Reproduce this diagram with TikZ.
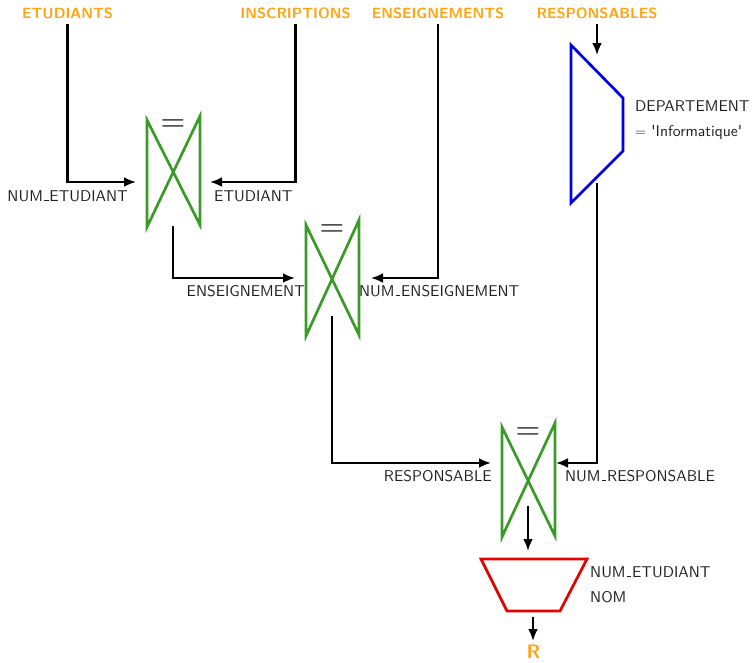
\documentclass[tikz,border=0pt]{standalone}
\usepackage{fontspec}
\newfontfamily\lmsten{lmsans10-regular.otf}[BoldFont=lmsans10-bold.otf]
\usetikzlibrary{arrows.meta}
\definecolor{jgreen}{RGB}{58,155,40}
\definecolor{torange}{RGB}{255,165,20}
\definecolor{sblue}{RGB}{0,0,230}
\definecolor{pred}{RGB}{230,0,0}
\newcommand\us{\leavevmode\kern.06em\vbox{\hrule width.3em height .045em}\kern.06em}
\begin{document}
\begin{tikzpicture}[x=1pt,y=-1pt,
  every node/.style={font=\lmsten\fontsize{15.6}{18}\selectfont, inner sep=0pt},
  title/.style={font=\lmsten\bfseries\fontsize{14.8}{18}\selectfont, text=torange, anchor=base},
  attr/.style={text=black!88},
  arr/.style={line width=2.5pt, -{Latex[length=12pt,width=10pt]}},
  joinshape/.style={draw=jgreen, line width=2.7pt},
  eqsign/.style={font=\fontsize{14.4}{16}\selectfont},
]
\useasboundingbox (0,0) rectangle (753,662);

% titles
\node[title] (etud) at (67.5,18.5) {ETUDIANTS};
\node[title] (insc) at (295.5,18.5) {INSCRIPTIONS};
\node[title] (ens)  at (438,18.5) {ENSEIGNEMENTS};
\node[title] (resp) at (597,18.5) {RESPONSABLES};
\node[title, font=\lmsten\bfseries\fontsize{19.5}{22}\selectfont] (R) at (533.5,658.5) {R};

% coordinates
\coordinate (etudout) at (67.5,24);
\coordinate (inscout) at (295.5,24);
\coordinate (ensout) at (438,24);
\coordinate (respout) at (597,24);
\coordinate (j1w) at (136,182);
\coordinate (j1e) at (210,182);
\coordinate (j1s) at (173,226);
\coordinate (j2w) at (295,278);
\coordinate (j2e) at (371,278);
\coordinate (j2s) at (332,316);
\coordinate (j3w) at (491,463);
\coordinate (j3e) at (556,463);
\coordinate (j3s) at (528,506);
\coordinate (selin) at (597,55);
\coordinate (selout) at (597,183);
\coordinate (projin) at (528,551);
\coordinate (projout) at (533,617);
\coordinate (Rin) at (533,641);

% join 1
\draw[joinshape] (147,120) -- (147,227) -- (200,116) -- (200,225) -- cycle;
\node[eqsign] (eq1) at (173,126) {\scalebox{2.25}{$=$}};
% join 2
\draw[joinshape] (306,225) -- (306,336) -- (359,220) -- (359,335) -- cycle;
\node[eqsign] (eq2) at (332,231) {\scalebox{2.25}{$=$}};
% join 3
\draw[joinshape] (502,427) -- (502,537) -- (555,423) -- (555,536) -- cycle;
\node[eqsign] (eq3) at (528,434) {\scalebox{2.25}{$=$}};

% selection
\draw[sblue, line width=2.7pt] (571,45) -- (623,98) -- (623,151) -- (571,203) -- cycle;
% projection
\draw[pred, line width=2.7pt] (481,559) -- (587,559) -- (560,611) -- (507,611) -- cycle;

% connectors
\draw[arr] (etudout) |- (j1w);
\draw[arr] (inscout) |- (j1e);
\draw[arr] (j1s) |- (j2w);
\draw[arr] (ensout) |- (j2e);
\draw[arr] (j2s) |- (j3w);
\draw[arr] (respout) -- (selin);
\draw[arr] (selout) |- (j3e);
\draw[arr] (j3s) -- (projin);
\draw[arr] (projout) -- (Rin);

% labels
\node[attr, anchor=base east] (l1) at (128,201) {NUM\us ETUDIANT};
\node[attr, anchor=base west] (l2) at (214,201) {ETUDIANT};
\node[attr, anchor=base east] (l3) at (305,296) {ENSEIGNEMENT};
\node[attr, anchor=base west] (l4) at (359,296) {NUM\us ENSEIGNEMENT};
\node[attr, anchor=base east] (l5) at (492,481) {RESPONSABLE};
\node[attr, anchor=base west] (l6) at (565,481) {NUM\us RESPONSABLE};
\node[attr, anchor=base west] (l7) at (635,111) {DEPARTEMENT};
\node[attr, anchor=base west] (l8) at (635,136) {$=$ 'Informatique'};
\node[attr, anchor=base west] (l9) at (590,577) {NUM\us ETUDIANT};
\node[attr, anchor=base west] (l10) at (590,602) {NOM};
\end{tikzpicture}
\end{document}
